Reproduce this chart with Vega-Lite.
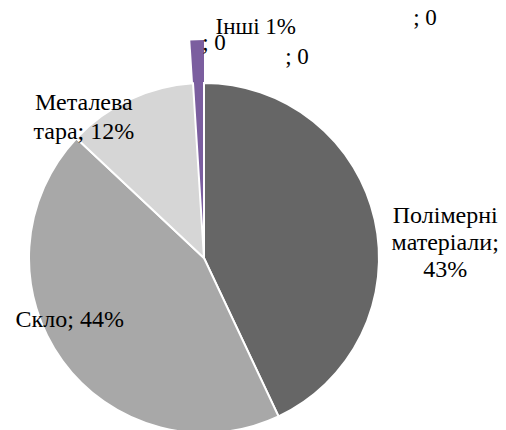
{
  "$schema": "https://vega.github.io/schema/vega-lite/v6.json",
  "autosize": "none",
  "width": 408,
  "height": 344,
  "padding": {"left": 0, "top": 86, "right": 98, "bottom": 0},
  "background": "white",
  "config": {"view": {"stroke": null}, "text": {"font": "'Liberation Serif', 'Times New Roman', serif"}},
  "data": {"values": [
    {"i": 1, "id": "polimer", "value": 43, "label": "Полімерні\nматеріали;\n43%"},
    {"i": 2, "id": "sklo", "value": 44, "label": "Скло; 44%"},
    {"i": 3, "id": "metal", "value": 12, "label": "Металева\nтара; 12%"},
    {"i": 4, "id": "inshi", "value": 1, "label": "Інші 1%"},
    {"i": 5, "id": "z1", "value": 0, "label": "; 0"},
    {"i": 6, "id": "z2", "value": 0, "label": "; 0"},
    {"i": 7, "id": "z3", "value": 0, "label": "; 0"}
  ]},
  "encoding": {
    "theta": {"field": "value", "type": "quantitative", "stack": true},
    "order": {"field": "i", "type": "quantitative"}
  },
  "layer": [
    {
      "mark": {"type": "arc", "radius": 218, "stroke": null},
      "encoding": {
        "color": {"value": "#7b5e9f"},
        "opacity": {"condition": {"test": "datum.id === 'inshi'", "value": 1}, "value": 0}
      }
    },
    {
      "mark": {"type": "arc", "radius": 175, "stroke": "white", "strokeWidth": 2},
      "encoding": {
        "color": {"field": "id", "type": "nominal", "legend": null,
          "scale": {"domain": ["polimer", "sklo", "metal", "inshi", "z1", "z2", "z3"],
                    "range": ["#666666", "#a8a8a8", "#d6d6d6", "#7b5e9f", "#7b5e9f", "#7b5e9f", "#7b5e9f"]}},
        "opacity": {"condition": {"test": "datum.id === 'inshi'", "value": 0}, "value": 1}
      }
    },
    {
      "mark": {"type": "text", "font": "'Liberation Serif', 'Times New Roman', serif", "fontSize": 24, "lineHeight": 27, "lineBreak": "\n", "color": "black", "radius": 240, "dx": 7, "dy": 10, "align": "center", "baseline": "middle"},
      "encoding": {"text": {"condition": {"test": "datum.id === 'polimer'", "field": "label"}, "value": ""}}
    },
    {
      "mark": {"type": "text", "font": "'Liberation Serif', 'Times New Roman', serif", "fontSize": 24, "color": "black", "radius": 140, "dx": -21, "dy": -20, "align": "center", "baseline": "middle"},
      "encoding": {"text": {"condition": {"test": "datum.id === 'sklo'", "field": "label"}, "value": ""}}
    },
    {
      "mark": {"type": "text", "font": "'Liberation Serif', 'Times New Roman', serif", "fontSize": 24, "lineHeight": 29, "lineBreak": "\n", "color": "black", "radius": 160, "dx": -52, "dy": -10, "align": "center", "baseline": "middle"},
      "encoding": {"text": {"condition": {"test": "datum.id === 'metal'", "field": "label"}, "value": ""}}
    },
    {
      "mark": {"type": "text", "font": "'Liberation Serif', 'Times New Roman', serif", "fontSize": 23, "color": "black", "radius": 231, "dx": 59, "align": "center", "baseline": "middle"},
      "encoding": {"text": {"condition": {"test": "datum.id === 'inshi'", "field": "label"}, "value": ""}}
    },
    {
      "mark": {"type": "text", "font": "'Liberation Serif', 'Times New Roman', serif", "fontSize": 23, "color": "black", "radius": 240, "dx": 221, "align": "center", "baseline": "middle"},
      "encoding": {"text": {"condition": {"test": "datum.id === 'z1'", "field": "label"}, "value": ""}}
    },
    {
      "mark": {"type": "text", "font": "'Liberation Serif', 'Times New Roman', serif", "fontSize": 23, "color": "black", "radius": 201, "dx": 93, "align": "center", "baseline": "middle"},
      "encoding": {"text": {"condition": {"test": "datum.id === 'z2'", "field": "label"}, "value": ""}}
    },
    {
      "mark": {"type": "text", "font": "'Liberation Serif', 'Times New Roman', serif", "fontSize": 23, "color": "black", "radius": 215, "dx": 10, "align": "center", "baseline": "middle"},
      "encoding": {"text": {"condition": {"test": "datum.id === 'z3'", "field": "label"}, "value": ""}}
    }
  ]
}
